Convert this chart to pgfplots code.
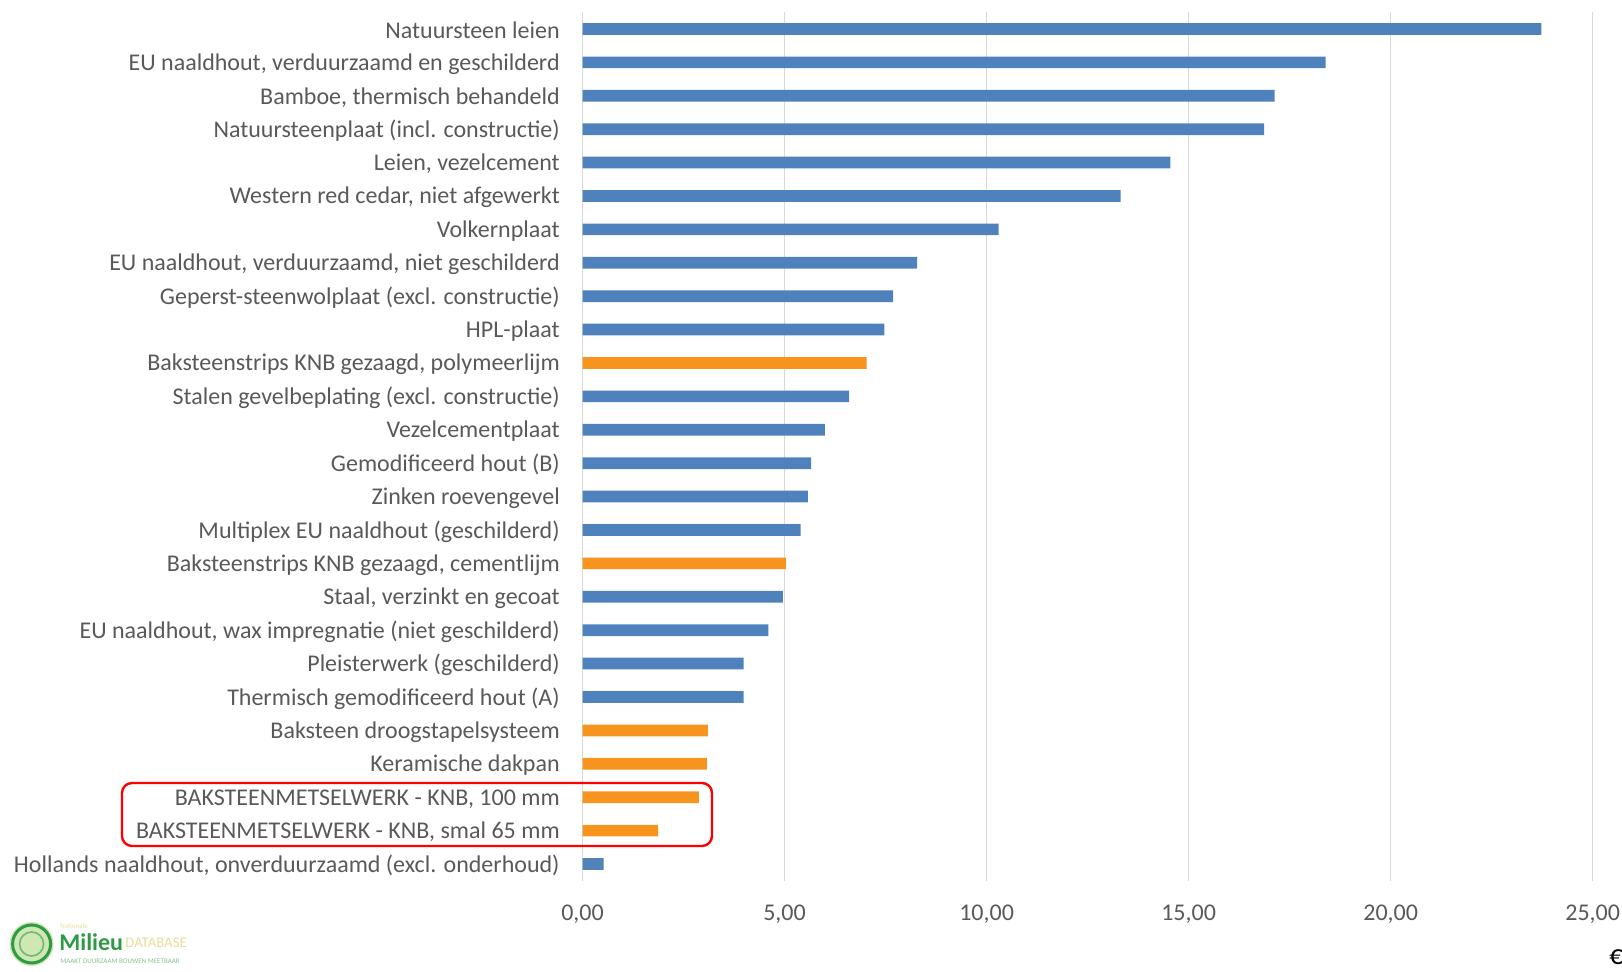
\documentclass[border=0pt]{standalone}
\usepackage{fontspec}
\setmainfont{Carlito}
\usepackage{pgfplots}
\pgfplotsset{compat=1.18}
\definecolor{barblue}{HTML}{4F81BD}
\definecolor{barorange}{HTML}{F7941E}
\definecolor{gridgray}{HTML}{D9D9D9}
\definecolor{labgray}{HTML}{595959}
\definecolor{logogreen}{HTML}{2E9A45}
\definecolor{logolight}{HTML}{CFE7B0}
\definecolor{logoyellow}{HTML}{E6DD9A}

\begin{document}
\begin{tikzpicture}[x=1pt,y=1pt]
\path[use as bounding box] (0,0) rectangle (811,486);
\begin{axis}[
  at={(291.25pt,45.65pt)}, anchor=south west,
  scale only axis, width=505.1pt, height=434.2pt,
  xbar, bar width=5.85pt, bar shift=0pt,
  xmin=0, xmax=25, ymin=-0.5, ymax=25.5, y dir=reverse,
  axis line style={draw=none},
  major tick length=0pt,
  xtick={0,5,10,15,20,25},
  xticklabels={{0,00},{5,00},{10,00},{15,00},{20,00},{25,00}},
  xmajorgrids, grid style={gridgray, line width=0.6pt},
  ytick={0,...,25},
  yticklabels={
    Natuursteen leien,
    {EU naaldhout, verduurzaamd en geschilderd},
    {Bamboe, thermisch behandeld},
    Natuursteenplaat (incl. constructie),
    {Leien, vezelcement},
    {Western red cedar, niet afgewerkt},
    Volkernplaat,
    {EU naaldhout, verduurzaamd, niet geschilderd},
    Geperst-steenwolplaat (excl. constructie),
    HPL-plaat,
    {Baksteenstrips KNB gezaagd, polymeerlijm},
    Stalen gevelbeplating (excl. constructie),
    Vezelcementplaat,
    Gemodificeerd hout (B),
    Zinken roevengevel,
    Multiplex EU naaldhout (geschilderd),
    {Baksteenstrips KNB gezaagd, cementlijm},
    {Staal, verzinkt en gecoat},
    {EU naaldhout, wax impregnatie (niet geschilderd)},
    Pleisterwerk (geschilderd),
    Thermisch gemodificeerd hout (A),
    Baksteen droogstapelsysteem,
    Keramische dakpan,
    {BAKSTEENMETSELWERK - KNB, 100 mm},
    {BAKSTEENMETSELWERK - KNB, smal 65 mm},
    {Hollands naaldhout, onverduurzaamd (excl. onderhoud)}
  },
  yticklabel style={font=\fontsize{12}{14}\selectfont, text=labgray, inner sep=0pt, xshift=-11.2pt, yshift=-0.8pt},
  xticklabel style={font=\fontsize{12}{14}\selectfont, text=labgray, inner sep=0pt, anchor=base, yshift=-19.7pt},
]
\addplot[fill=barblue, draw=none] coordinates {
  (23.73,0) (18.39,1) (17.13,2) (16.87,3) (14.55,4) (13.32,5) (10.30,6)
  (8.28,7) (7.69,8) (7.47,9) (6.60,11) (6.00,12) (5.66,13) (5.58,14)
  (5.40,15) (4.96,17) (4.60,18) (3.99,19) (3.99,20) (0.52,25)
};
\addplot[fill=barorange, draw=none] coordinates {
  (7.03,10) (5.03,16) (3.10,21) (3.08,22) (2.88,23) (1.87,24)
};
\end{axis}
% highlight box
\draw[red, line width=1.2pt, rounded corners=5pt] (61,94.5) rectangle (356,63);
% euro sign
\node[anchor=west, inner sep=0pt, font=\fontsize{14}{16}\selectfont] at (804.5,7.5) {€};
% logo
\fill[logolight] (15.8,14) circle (11);
\draw[logogreen, line width=1.5pt] (15.8,14) circle (9.5);
\draw[logogreen!70, line width=0.8pt] (15.8,14) circle (6);
\node[anchor=west, inner sep=0pt, font=\bfseries\fontsize{12}{12}\selectfont, text=logogreen] at (29.5,15) {Milieu};
\node[anchor=west, inner sep=0pt, font=\fontsize{7.4}{8}\selectfont, text=logoyellow] at (62.5,14.5) {DATABASE};
\node[anchor=west, inner sep=0pt, font=\fontsize{3.5}{4}\selectfont, text=logogreen!60] at (30,5.5) {MAAKT DUURZAAM BOUWEN MEETBAAR};
\node[anchor=west, inner sep=0pt, font=\fontsize{3.5}{4}\selectfont, text=logoyellow] at (30,23) {Nationale};
\end{tikzpicture}
\end{document}
